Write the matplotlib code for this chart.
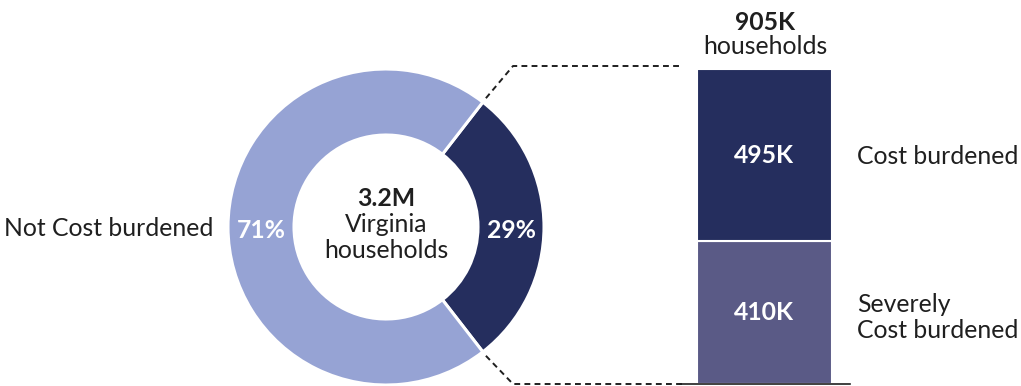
import numpy as np
import matplotlib
matplotlib.use("Agg")
import matplotlib.pyplot as plt

plt.rcParams['font.family'] = ['Lato', 'DejaVu Sans']

# Donut: share of Virginia households by cost burden
donut_labels = ["Cost burdened", "Not Cost burdened"]
donut_pct = [29, 71]
donut_colors = ["#252E5E", "#96A3D4"]
total_households = "3.2M"

# Breakdown of the cost-burdened households (thousands)
bar_labels = ["Severely\nCost burdened", "Cost burdened"]
bar_values = [410, 495]
bar_colors = ["#5A5A86", "#252E5E"]
bar_total = "905K"

W, H = 1021, 386
fig = plt.figure(figsize=(W / 100, H / 100), dpi=100)
ax = fig.add_axes([0, 0, 1, 1])

def Y(py):
    return H - py

cx, cy = 386, Y(227)
r_out, r_in = 158, 92

start = -donut_pct[0] / 100 * 180
ax.pie(donut_pct, colors=donut_colors, startangle=start, counterclock=True,
       center=(cx, cy), radius=r_out,
       wedgeprops=dict(width=r_out - r_in, edgecolor="white", linewidth=2.2))
ax.set_xlim(0, W)
ax.set_ylim(0, H)
ax.set_aspect("auto")
ax.axis("off")

txt = "#1F1F1F"
fs = 17.8
mid_r = (r_out + r_in) / 2
ax.text(cx + mid_r, cy - 3, f"{donut_pct[0]}%", ha="center", va="center",
        color="white", fontsize=fs, fontweight="bold")
ax.text(cx - mid_r, cy - 3, f"{donut_pct[1]}%", ha="center", va="center",
        color="white", fontsize=fs, fontweight="bold")
ax.text(213, cy - 2, donut_labels[1], ha="right", va="center", color=txt, fontsize=fs)

ax.text(cx, Y(198), total_households, ha="center", va="center", color=txt,
        fontsize=fs, fontweight="bold")
ax.text(cx, Y(225), "Virginia", ha="center", va="center", color=txt, fontsize=fs)
ax.text(cx, Y(251), "households", ha="center", va="center", color=txt, fontsize=fs)

# Connector lines from the 29% wedge to the bar
half = np.deg2rad(donut_pct[0] / 100 * 180)
r_c = r_out + 5
for sgn, yline in [(1, Y(66)), (-1, Y(384))]:
    x0 = cx + r_c * np.cos(half)
    y0 = cy + sgn * r_c * np.sin(half)
    ax.plot([x0, 513, 683], [y0, yline, yline], color="#1F1F1F",
            linestyle=(0, (3, 2.2)), linewidth=1.4, solid_capstyle="butt")

# Stacked bar
bx0, bx1 = 680, 850
bax = fig.add_axes([bx0 / W, (H - 384) / H, (bx1 - bx0) / W, (384 - 69) / H])
bottom = 0
for v, c in zip(bar_values, bar_colors):
    bax.bar(84, v, bottom=bottom, width=135, color=c, edgecolor="white",
            linewidth=1.5, zorder=2)
    bottom += v
bax.set_xlim(0, bx1 - bx0)
bax.set_ylim(0, sum(bar_values))
for s in ["left", "right", "top"]:
    bax.spines[s].set_visible(False)
bax.spines["bottom"].set_linewidth(1.2)
bax.spines["bottom"].set_color("#1F1F1F")
bax.spines["bottom"].set_zorder(3)
bax.set_xticks([])
bax.set_yticks([])
bax.patch.set_alpha(0)

bottom = 0
for v in bar_values:
    ymid = bottom + v / 2
    bax.text(84, ymid, f"{v}K", ha="center", va="center", color="white",
             fontsize=fs, fontweight="bold")
    bottom += v

# Category labels to the right of the bar, one text per line
label_rows = {bar_labels[1]: [157], bar_labels[0]: [305, 331]}
for lab, rows in label_rows.items():
    for line, py in zip(lab.split("\n"), rows):
        ax.text(857, Y(py), line, ha="left", va="center", color=txt, fontsize=fs)

ax.text(765, Y(22), bar_total, ha="center", va="center", color=txt,
        fontsize=fs, fontweight="bold")
ax.text(765, Y(46), "households", ha="center", va="center", color=txt, fontsize=fs)

fig.savefig("out.png", dpi=100, facecolor="white")
